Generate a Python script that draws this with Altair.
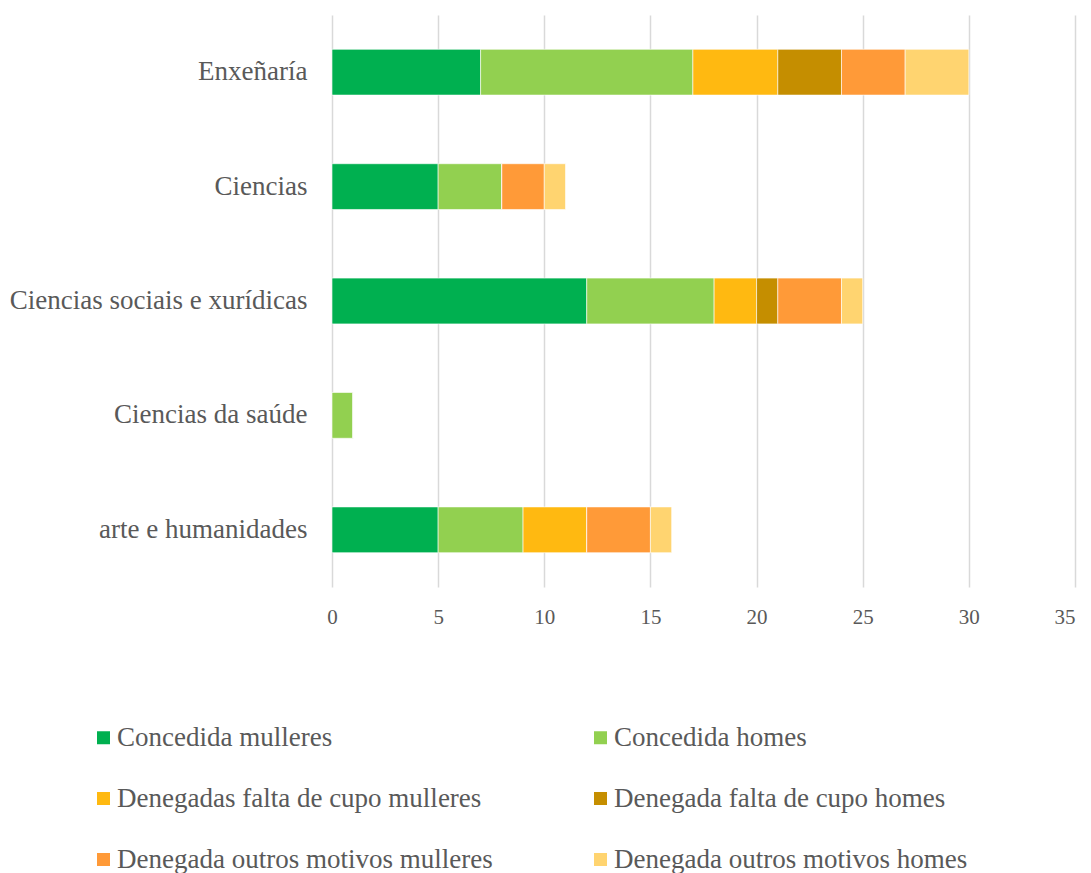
import altair as alt
import pandas as pd

categories = ["Enxeñaría", "Ciencias", "Ciencias sociais e xurídicas", "Ciencias da saúde", "arte e humanidades"]
series = [
    "Concedida mulleres",
    "Concedida homes",
    "Denegadas falta de cupo mulleres",
    "Denegada falta de cupo homes",
    "Denegada outros motivos mulleres",
    "Denegada outros motivos homes",
]
colors = ["#00B050", "#92D050", "#FFB911", "#C58E00", "#FF9A38", "#FFD470"]

concedida_mulleres = [7, 5, 12, 0, 5]
concedida_homes = [10, 3, 6, 1, 4]
denegadas_cupo_mulleres = [4, 0, 2, 0, 3]
denegada_cupo_homes = [3, 0, 1, 0, 0]
denegada_outros_mulleres = [3, 2, 3, 0, 3]
denegada_outros_homes = [3, 1, 1, 0, 1]

values = [concedida_mulleres, concedida_homes, denegadas_cupo_mulleres,
          denegada_cupo_homes, denegada_outros_mulleres, denegada_outros_homes]

rows = []
for si, (s, vals) in enumerate(zip(series, values)):
    for c, v in zip(categories, vals):
        rows.append({"cat": c, "serie": s, "valor": v, "orde": si})
df = pd.DataFrame(rows)

FONT = "Liberation Serif"
GREY = "#595959"

chart = alt.Chart(df).mark_bar(stroke="white", strokeWidth=0.6).encode(
    y=alt.Y("cat:N", sort=categories, title=None,
            scale=alt.Scale(paddingInner=0.6, paddingOuter=0.3),
            axis=alt.Axis(domain=False, ticks=False, labelPadding=25,
                          labelFontSize=27, labelColor=GREY, labelFont=FONT,
                          labelLimit=400)),
    x=alt.X("valor:Q", stack="zero", title=None,
            scale=alt.Scale(domain=[0, 35], nice=False),
            axis=alt.Axis(values=[0, 5, 10, 15, 20, 25, 30, 35], domain=False, ticks=False,
                          labelPadding=19, labelFontSize=21, labelColor=GREY, labelFont=FONT,
                          labelAlign=alt.expr("datum.value == 35 ? 'right' : 'center'"),
                          gridColor="#D9D9D9", gridWidth=1.5, labelFlush=False)),
    color=alt.Color("serie:N", sort=series,
                    scale=alt.Scale(domain=series, range=colors),
                    legend=alt.Legend(title=None, orient="none", legendX=-242, legendY=709,
                                      padding=0, direction="horizontal",
                                      columns=2, columnPadding=94, rowPadding=33,
                                      symbolType="square", symbolSize=169, symbolStrokeWidth=0,
                                      labelFontSize=27, labelFont=FONT, labelColor=GREY,
                                      labelOffset=0, labelLimit=500)),
    order=alt.Order("orde:Q"),
).properties(
    width=743, height=572,
    autosize=alt.AutoSizeParams(type="none"),
    padding={"left": 324, "top": 7, "right": 8, "bottom": 286},
).configure_view(stroke=None)

chart.save("out.html", embed_options={"renderer": "svg", "actions": False})
